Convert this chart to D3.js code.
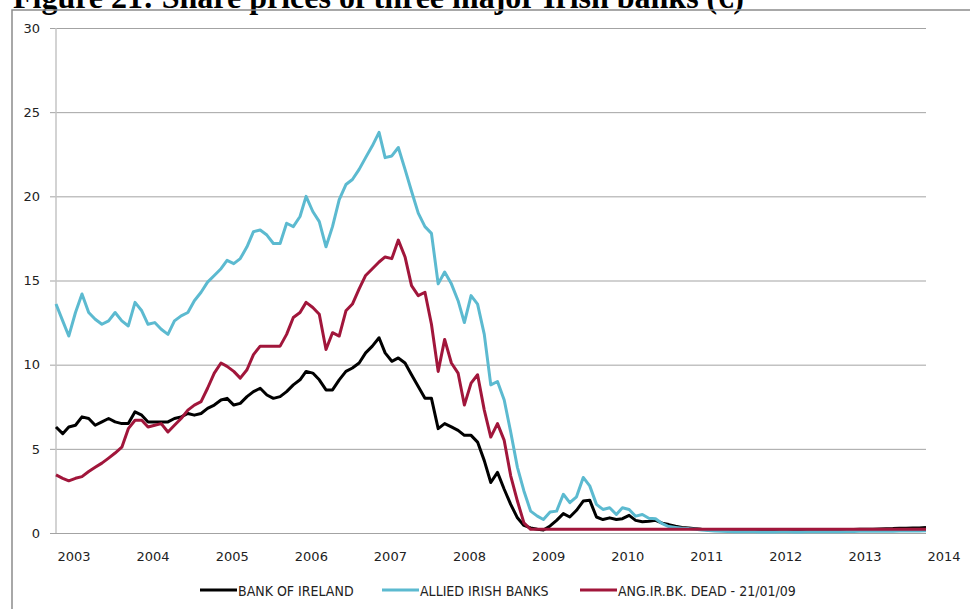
<!DOCTYPE html>
<html>
<head>
<meta charset="utf-8">
<script src="https://cdn.jsdelivr.net/npm/d3@7"></script>
<style>
  body { margin: 0; background: #fff; overflow: hidden; }
  svg { display: block; }
</style>
</head>
<body>
<svg width="970" height="609"></svg>
<script>
// monthly closing levels, Jan 2003 .. Jan 2014 (EUR)
var startMonth = "2003-01";
var bankOfIreland = [
  6.3, 5.9, 6.3, 6.4, 6.9, 6.8, 6.4, 6.6, 6.8, 6.6, 6.5, 6.5,
  7.2, 7.0, 6.6, 6.6, 6.6, 6.6, 6.8, 6.9, 7.1, 7.0, 7.1, 7.4,
  7.6, 7.9, 8.0, 7.6, 7.7, 8.1, 8.4, 8.6, 8.2, 8.0, 8.1, 8.4,
  8.8, 9.1, 9.6, 9.5, 9.1, 8.5, 8.5, 9.1, 9.6, 9.8, 10.1, 10.7,
  11.1, 11.6, 10.7, 10.2, 10.4, 10.1, 9.4, 8.7, 8.0, 8.0, 6.2, 6.5,
  6.3, 6.1, 5.8, 5.8, 5.4, 4.3, 3.0, 3.6, 2.6, 1.7, 0.9, 0.45,
  0.3, 0.22, 0.18, 0.42, 0.75, 1.15, 0.95, 1.35, 1.9, 1.95, 0.95, 0.8,
  0.9, 0.8, 0.85, 1.05, 0.75, 0.67, 0.7, 0.75, 0.58, 0.5, 0.4, 0.33,
  0.3, 0.26, 0.22, 0.2, 0.18, 0.16, 0.15, 0.14, 0.13, 0.13, 0.12, 0.12,
  0.12, 0.13, 0.13, 0.14, 0.14, 0.15, 0.16, 0.17, 0.18, 0.18, 0.19, 0.2,
  0.2, 0.21, 0.22, 0.22, 0.23, 0.24, 0.25, 0.26, 0.28, 0.28, 0.3, 0.3,
  0.32
];
var alliedIrish = [
  13.6, 12.6, 11.7, 13.1, 14.2, 13.1, 12.7, 12.4, 12.6, 13.1, 12.6, 12.3,
  13.7, 13.2, 12.4, 12.5, 12.1, 11.8, 12.6, 12.9, 13.1, 13.8, 14.3, 14.9,
  15.3, 15.7, 16.2, 16.0, 16.3, 17.0, 17.9, 18.0, 17.7, 17.2, 17.2, 18.4,
  18.2, 18.8, 20.0, 19.1, 18.5, 17.0, 18.2, 19.8, 20.7, 21.0, 21.6, 22.3,
  23.0, 23.8, 22.3, 22.4, 22.9, 21.6, 20.3, 19.0, 18.2, 17.8, 14.8, 15.5,
  14.8, 13.8, 12.5, 14.1, 13.6, 11.8, 8.8, 9.0, 7.9, 6.0, 3.9, 2.5,
  1.3, 1.0, 0.8, 1.25, 1.3, 2.3, 1.8, 2.15, 3.3, 2.8, 1.7, 1.4,
  1.5, 1.1, 1.5, 1.4, 1.0, 1.1, 0.88, 0.85, 0.55, 0.38, 0.33, 0.28,
  0.26, 0.22, 0.18, 0.15, 0.12, 0.1, 0.09, 0.08, 0.08, 0.07, 0.07, 0.06,
  0.06, 0.06, 0.07, 0.07, 0.06, 0.06, 0.07, 0.07, 0.08, 0.08, 0.08, 0.08,
  0.09, 0.09, 0.1, 0.1, 0.1, 0.1, 0.11, 0.11, 0.12, 0.12, 0.12, 0.12,
  0.13
];
var angloIrish = [
  3.45, 3.25, 3.1, 3.25, 3.35, 3.65, 3.9, 4.15, 4.45, 4.75, 5.1, 6.2,
  6.7, 6.7, 6.3, 6.4, 6.5, 6.0, 6.4, 6.8, 7.3, 7.6, 7.8, 8.6,
  9.5, 10.1, 9.9, 9.6, 9.2, 9.7, 10.6, 11.1, 11.1, 11.1, 11.1, 11.8,
  12.8, 13.1, 13.7, 13.4, 13.0, 10.9, 11.9, 11.7, 13.2, 13.6, 14.5, 15.3,
  15.7, 16.1, 16.4, 16.3, 17.4, 16.4, 14.7, 14.1, 14.3, 12.4, 9.6, 11.5,
  10.1, 9.5, 7.6, 8.9, 9.4, 7.3, 5.7, 6.5, 5.5, 3.4, 1.9, 0.6,
  0.22, 0.22, 0.22, 0.22, 0.22, 0.22, 0.22, 0.22, 0.22, 0.22, 0.22, 0.22,
  0.22, 0.22, 0.22, 0.22, 0.22, 0.22, 0.22, 0.22, 0.22, 0.22, 0.22, 0.22,
  0.22, 0.22, 0.22, 0.22, 0.22, 0.22, 0.22, 0.22, 0.22, 0.22, 0.22, 0.22,
  0.22, 0.22, 0.22, 0.22, 0.22, 0.22, 0.22, 0.22, 0.22, 0.22, 0.22, 0.22,
  0.22, 0.22, 0.22, 0.22, 0.22, 0.22, 0.22, 0.22, 0.22, 0.22, 0.22, 0.22,
  0.22
];
var seriesNames = ["BANK OF IRELAND", "ALLIED IRISH BANKS", "ANG.IR.BK. DEAD - 21/01/09"];
var seriesColors = ["#000000", "#5cbad0", "#a1163b"];
var yTicks = [0, 5, 10, 15, 20, 25, 30];
var yearTicks = [2003, 2004, 2005, 2006, 2007, 2008, 2009, 2010, 2011, 2012, 2013, 2014];
var title = "Figure 21: Share prices of three major Irish banks (\u20ac)";

(function() {
var svg = d3.select("svg");
var start = d3.timeParse("%Y-%m")(startMonth);
var months = bankOfIreland.map(function(d, i) { return d3.timeMonth.offset(start, i); });

var plotLeft = 56, plotRight = 926, plotTop = 28, plotBottom = 533;
var x = d3.scaleTime().domain([new Date(2003, 0, 1), new Date(2014, 0, 1)]).range([plotLeft, plotRight]);
var y = d3.scaleLinear().domain([0, 30]).range([plotBottom, plotTop]);

// title, mostly cut off by the top of the frame
svg.append("text")
  .attr("x", 13)
  .attr("y", 7.5)
  .attr("font-family", "Liberation Serif, Times New Roman, serif")
  .attr("font-weight", "bold")
  .attr("font-size", 32)
  .attr("fill", "#000")
  .text(title);

// outer frame
svg.append("rect")
  .attr("x", 12)
  .attr("y", 10)
  .attr("width", 1000)
  .attr("height", 700)
  .attr("fill", "none")
  .attr("stroke", "#8c8c8c")
  .attr("stroke-width", 1.5);

// horizontal gridlines + y labels
var yAxis = svg.append("g")
  .attr("transform", "translate(" + plotRight + ",0)")
  .call(d3.axisLeft(y).tickValues(yTicks).tickSize(plotRight - 50).tickPadding(10));
yAxis.select(".domain").remove();
yAxis.selectAll("line").attr("stroke", "#a3a3a3");
yAxis.selectAll("text")
  .attr("font-family", "DejaVu Sans, Verdana, sans-serif")
  .attr("font-size", 13)
  .attr("fill", "#222");

// vertical axis line
svg.append("line")
  .attr("x1", plotLeft).attr("x2", plotLeft)
  .attr("y1", plotTop).attr("y2", plotBottom)
  .attr("stroke", "#c4c4c4")
  .attr("stroke-width", 1.5);

// year labels (left aligned on the year start)
var xAxis = svg.append("g")
  .attr("transform", "translate(0," + plotBottom + ")")
  .call(d3.axisBottom(x)
    .tickValues(yearTicks.map(function(yr) { return new Date(yr, 0, 1); }))
    .tickFormat(d3.timeFormat("%Y"))
    .tickSize(0)
    .tickPadding(19));
xAxis.select(".domain").remove();
xAxis.selectAll("text")
  .attr("text-anchor", "start")
  .attr("dx", 1)
  .attr("font-family", "DejaVu Sans, Verdana, sans-serif")
  .attr("font-size", 13)
  .attr("fill", "#222");

// the three price lines
var line = d3.line()
  .x(function(d, i) { return x(months[i]); })
  .y(function(d) { return y(d); });

[bankOfIreland, alliedIrish, angloIrish].forEach(function(serie, k) {
  svg.append("path")
    .datum(serie)
    .attr("d", line)
    .attr("fill", "none")
    .attr("stroke", seriesColors[k])
    .attr("stroke-width", 3)
    .attr("stroke-linejoin", "round");
});

// legend
var legendX = [200, 382, 580];
seriesNames.forEach(function(name, k) {
  svg.append("line")
    .attr("x1", legendX[k]).attr("x2", legendX[k] + 37)
    .attr("y1", 590).attr("y2", 590)
    .attr("stroke", seriesColors[k])
    .attr("stroke-width", 3);
  svg.append("text")
    .attr("x", legendX[k] + 38)
    .attr("y", 596)
    .attr("font-family", "DejaVu Sans Condensed, DejaVu Sans, sans-serif")
    .style("font-stretch", "condensed")
    .attr("font-size", 14)
    .attr("fill", "#222")
    .text(name);
});
})();
</script>
</body>
</html>
